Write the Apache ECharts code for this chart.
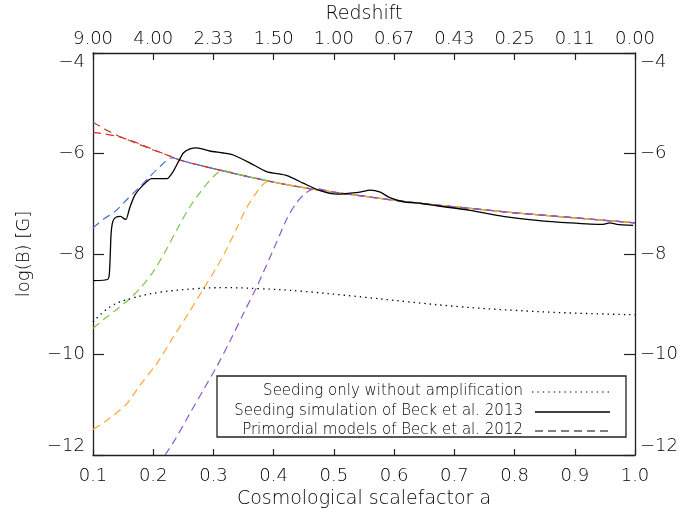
<!DOCTYPE html>
<html>
<head>
<meta charset="utf-8">
<script src="https://cdn.jsdelivr.net/npm/echarts@6/dist/echarts.min.js"></script>
<style>html,body{margin:0;padding:0;background:#fff}#c{width:685px;height:517px}</style>
</head>
<body>
<div id="c"></div>
<script>
// ---- tick labels ----
var xTickLabels = ['0.1','0.2','0.3','0.4','0.5','0.6','0.7','0.8','0.9','1.0'];
var zTickLabels = ['9.00','4.00','2.33','1.50','1.00','0.67','0.43','0.25','0.11','0.00'];
var yTickLabels = ['\u221212','\u221210','\u22128','\u22126','\u22124'];

// ---- common late-time branch of primordial models ----
var envA = [0.25,0.3,0.35,0.4,0.45,0.5,0.55,0.6,0.65,0.7,0.75,0.8,0.85,0.9,0.95,1.0];
var envV = [-6.15,-6.30,-6.44,-6.57,-6.68,-6.77,-6.85,-6.93,-7.00,-7.06,-7.12,-7.18,-7.23,-7.28,-7.33,-7.38];

// ---- early branches of primordial models ----
var brownA = [0.1,0.125,0.15,0.175,0.2,0.225];
var brownV = [-5.38,-5.55,-5.69,-5.81,-5.93,-6.04];
var redA = [0.1,0.12,0.14,0.16,0.18,0.2,0.225];
var redV = [-5.58,-5.61,-5.66,-5.73,-5.82,-5.92,-6.04];
var blueA = [0.1,0.117,0.137,0.156,0.173,0.192,0.211,0.231];
var blueV = [-7.48,-7.31,-7.15,-6.92,-6.72,-6.49,-6.26,-6.09];
var greenA = [0.1,0.12,0.14,0.16,0.18,0.2,0.22,0.24,0.26,0.28,0.3,0.315];
var greenV = [-9.48,-9.28,-9.10,-8.90,-8.66,-8.35,-7.95,-7.50,-7.08,-6.74,-6.46,-6.34];
var orangeA = [0.1,0.123,0.156,0.178,0.206,0.233,0.258,0.283,0.305,0.319,0.339,0.355,0.377,0.39];
var orangeV = [-11.49,-11.31,-10.98,-10.61,-10.18,-9.66,-9.19,-8.70,-8.27,-7.97,-7.48,-7.08,-6.69,-6.56];
var purpleA = [0.2196,0.236,0.261,0.283,0.305,0.328,0.35,0.372,0.4,0.422,0.438,0.455,0.47];
var purpleV = [-12.0,-11.70,-11.17,-10.71,-10.25,-9.72,-9.18,-8.65,-7.90,-7.30,-6.98,-6.77,-6.70];

// ---- seeding simulation (solid) ----
var simA = [0.1,0.125,0.128,0.130,0.133,0.138,0.146,0.152,0.155,0.161,0.170,0.184,0.197,0.211,0.223,0.233,0.242,0.250,0.261,0.272,0.294,0.316,0.333,0.361,0.388,0.422,0.449,0.477,0.505,0.527,0.543,0.560,0.577,0.593,0.615,0.643,0.671,0.726,0.781,0.837,0.892,0.947,0.958,0.970,0.997];
var simV = [-8.53,-8.50,-8.20,-7.60,-7.35,-7.27,-7.25,-7.30,-7.31,-7.08,-6.82,-6.62,-6.50,-6.50,-6.50,-6.36,-6.16,-5.99,-5.91,-5.89,-5.95,-5.99,-6.03,-6.19,-6.36,-6.44,-6.59,-6.74,-6.81,-6.79,-6.77,-6.73,-6.77,-6.88,-6.96,-6.99,-7.04,-7.13,-7.25,-7.33,-7.38,-7.41,-7.38,-7.41,-7.43];

// ---- seeding only (dotted) ----
var seedA = [0.1,0.13,0.165,0.212,0.271,0.318,0.376,0.446,0.534,0.622,0.71,0.798,0.885,1.0];
var seedV = [-9.35,-9.04,-8.88,-8.76,-8.69,-8.67,-8.69,-8.74,-8.84,-8.95,-9.05,-9.12,-9.17,-9.21];

var legendTexts = ['Seeding only without amplification','Seeding simulation of Beck et al. 2013','Primordial models of Beck et al. 2012'];

function zip(a, v) { return a.map(function (x, i) { return [x, v[i]]; }); }
function model(a, v) {
  var d = zip(a, v);
  var last = a[a.length - 1];
  envA.forEach(function (x, i) { if (x > last + 1e-9) d.push([x, envV[i]]); });
  return d;
}

var FONT = 'DejaVu Sans';
var FW = 200;
var INK = '#000';
var AX = '#222';

function dashSeries(name, data, color) {
  return { name: name, type: 'line', data: data, showSymbol: false, symbol: 'none', smooth: 0.3,
    lineStyle: { color: color, width: 1.2, type: [8, 5] }, silent: true, z: 2 };
}

function xAx(pos) {
  var top = pos === 'top';
  return {
    type: 'value', position: pos, min: 0.1, max: 1.0, interval: 0.1,
    axisLine: { show: true, onZero: false, lineStyle: { color: AX, width: 1.3 } },
    axisTick: { show: true, inside: true, length: top ? 7 : 6, lineStyle: { color: AX, width: 1.2 } },
    splitLine: { show: false },
    axisLabel: { margin: top ? 5 : 12, fontSize: 18, fontFamily: FONT, fontWeight: FW, color: INK,
      formatter: function (v) { var i = Math.round((v - 0.1) / 0.1); return top ? zTickLabels[i] : xTickLabels[i]; } },
    name: top ? 'Redshift' : 'Cosmological scalefactor a',
    nameLocation: 'middle', nameGap: top ? 29 : 33,
    nameTextStyle: { fontSize: 19, fontFamily: FONT, fontWeight: FW, color: INK }
  };
}
function yAx(pos) {
  var left = pos === 'left';
  return {
    type: 'value', position: pos, min: -12, max: -4, interval: 2,
    axisLine: { show: true, onZero: false, lineStyle: { color: AX, width: 1.3 } },
    axisTick: { show: true, inside: true, length: 11, lineStyle: { color: AX, width: 1.2 } },
    splitLine: { show: false },
    axisLabel: { margin: left ? 8 : 5, fontSize: 18, fontFamily: FONT, fontWeight: FW, color: INK,
      verticalAlignMinLabel: 'bottom', verticalAlignMaxLabel: 'top',
      formatter: function (v) { return yTickLabels[Math.round((v + 12) / 2)]; } },
    name: left ? 'log(B) [G]' : '',
    nameLocation: 'middle', nameGap: 60,
    nameTextStyle: { fontSize: 18, fontFamily: FONT, fontWeight: FW, color: INK }
  };
}

var LFONT = '200 15px "DejaVu Sans"';
var chart = echarts.init(document.getElementById('c'), null, { renderer: 'canvas' });
chart.setOption({
  animation: false,
  backgroundColor: '#fff',
  grid: { left: 93, right: 50, top: 51, bottom: 62, containLabel: false },
  xAxis: [xAx('bottom'), xAx('top')],
  yAxis: [yAx('left'), yAx('right')],
  series: [
    dashSeries('brown', model(brownA, brownV), '#a0522d'),
    dashSeries('red', model(redA, redV), '#e8262a'),
    dashSeries('blue', model(blueA, blueV), '#4a6ed6'),
    dashSeries('green', model(greenA, greenV), '#7cc64b'),
    dashSeries('orange', model(orangeA, orangeV), '#ffa833'),
    dashSeries('purple', model(purpleA, purpleV), '#8c5bc6'),
    { name: legendTexts[1], type: 'line', data: zip(simA, simV), showSymbol: false, symbol: 'none', smooth: 0.2,
      lineStyle: { color: '#000', width: 1.3 }, silent: true, z: 3 },
    { name: legendTexts[0], type: 'line', data: zip(seedA, seedV), showSymbol: false, symbol: 'none', smooth: 0.4,
      lineStyle: { color: '#000', width: 1.3, type: [1.4, 4] }, silent: true, z: 3 }
  ],
  graphic: [
    { type: 'rect', z: 100, shape: { x: 217, y: 376, width: 409, height: 61 },
      style: { fill: '#fff', stroke: AX, lineWidth: 1.3 } },
    { type: 'text', z: 101, style: { text: legendTexts[0], x: 523, y: 391, align: 'right', verticalAlign: 'middle', font: LFONT, fill: INK } },
    { type: 'text', z: 101, style: { text: legendTexts[1], x: 523, y: 411, align: 'right', verticalAlign: 'middle', font: LFONT, fill: INK } },
    { type: 'text', z: 101, style: { text: legendTexts[2], x: 523, y: 430, align: 'right', verticalAlign: 'middle', font: LFONT, fill: INK } },
    { type: 'line', z: 101, shape: { x1: 532, y1: 392, x2: 610, y2: 392 }, style: { stroke: '#000', lineWidth: 1.2, lineDash: [1.4, 4] } },
    { type: 'line', z: 101, shape: { x1: 535, y1: 412, x2: 610, y2: 412 }, style: { stroke: '#000', lineWidth: 1.3 } },
    { type: 'line', z: 101, shape: { x1: 535, y1: 431, x2: 612, y2: 431 }, style: { stroke: '#000', lineWidth: 1.2, lineDash: [8, 5] } }
  ]
});
</script>
</body>
</html>
